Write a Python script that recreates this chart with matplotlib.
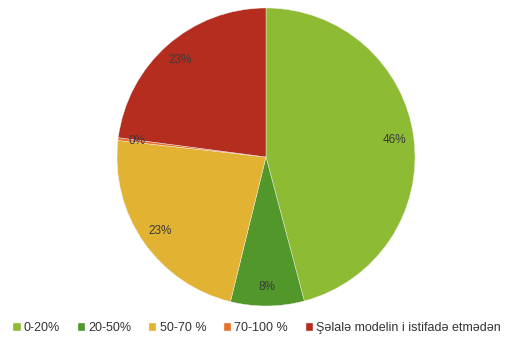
import matplotlib.pyplot as plt

plt.rcParams['font.family'] = ['Liberation Sans', 'DejaVu Sans']

labels = ['0-20%', '20-50%', '50-70 %', '70-100 %', 'Şəlalə modelin i istifadə etmədən']
shares = [46.0, 8.0, 23.0, 0.3, 23.0]
colors = ['#8dbb33', '#52972a', '#e2b233', '#e8702a', '#b52d1e']

fig = plt.figure(figsize=(5.28, 3.38), dpi=100)
ax = fig.add_axes([0.2216, 0.0947, 0.5644, 0.8817])

wedges, texts, autotexts = ax.pie(
    shares, colors=colors, startangle=90, counterclock=False,
    autopct=lambda p: '%d%%' % round(p), pctdistance=0.87,
    wedgeprops=dict(linewidth=0.3, edgecolor='#f2f2f2'),
    textprops=dict(color='#3a3a3a', fontsize=8.5))
ax.set_xlim(-1.0, 1.0)
ax.set_ylim(-1.0, 1.0)
ax.set_aspect('equal')

fig.legend(wedges, labels, loc='lower left', bbox_to_anchor=(0.004, -0.022),
           ncol=5, frameon=False, fontsize=9, handlelength=0.6, handleheight=0.6,
           handletextpad=0.25, columnspacing=1.4, labelcolor='#333333')

plt.savefig('out.png', dpi=100)
